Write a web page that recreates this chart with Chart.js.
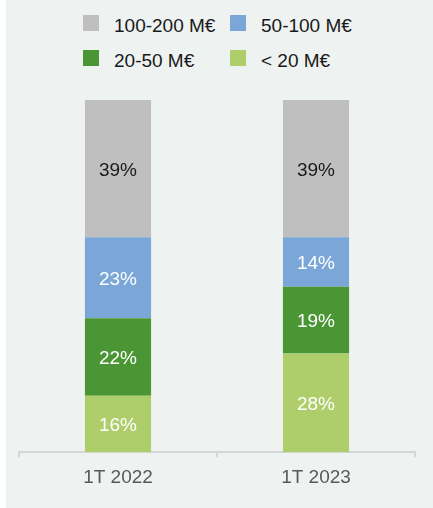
<!DOCTYPE html>
<html>
<head>
<meta charset="utf-8">
<script src="https://cdn.jsdelivr.net/npm/chart.js@4"></script>
<style>
  html, body { margin: 0; padding: 0; background: #ffffff; }
  body { width: 433px; height: 508px; position: relative; overflow: hidden;
         font-family: "Liberation Sans", Arial, sans-serif; }
  #panel { position: absolute; left: 6px; top: 0; width: 427px; height: 508px; background: #eef2f1; }
  #chart { position: absolute; left: 0; top: 0; }
  #legend { position: absolute; left: 77px; top: 14px; display: grid;
            grid-template-columns: 147px 147px; row-gap: 17px; }
  .item { display: flex; align-items: center; height: 18px; font-size: 19px; color: #1a1a1a; line-height: 18px; }
  .item span.txt { position: relative; top: 3px; }
  .box { width: 16px; height: 16px; margin-right: 15px; flex: none; }
</style>
</head>
<body>
<div id="panel">
  <div id="legend"></div>
  <canvas id="chart" width="427" height="508"></canvas>
</div>
<script>
// ============================================
// Data
// ============================================
const quarters = ['1T 2022', '1T 2023'];
const sizeBands = ['< 20 M€', '20-50 M€', '50-100 M€', '100-200 M€'];   // bottom -> top
const under20 = [16, 28];
const from20to50 = [22, 19];
const from50to100 = [23, 14];
const from100to200 = [39, 39];

const bandColors = ['#aecd6b', '#4a9634', '#7ba6d8', '#bfbfbf'];
const labelColors = ['#ffffff', '#ffffff', '#ffffff', '#1a1a1a'];
const seriesValues = [under20, from20to50, from50to100, from100to200];

// ============================================
// Value labels inside the bar segments
// ============================================
const segmentLabels = {
  id: 'segmentLabels',
  afterDatasetsDraw(chart) {
    const ctx = chart.ctx;
    ctx.save();
    ctx.font = '19px "Liberation Sans", Arial, sans-serif';
    ctx.textAlign = 'center';
    ctx.textBaseline = 'middle';
    chart.data.datasets.forEach((ds, i) => {
      const meta = chart.getDatasetMeta(i);
      meta.data.forEach((bar, j) => {
        const p = bar.getProps(['x', 'y', 'base'], true);
        ctx.fillStyle = ds.labelColor;
        ctx.fillText(ds.data[j] + '%', p.x, (p.y + p.base) / 2 + 2);
      });
    });
    ctx.restore();
  }
};

// ============================================
// Chart
// ============================================
const chart = new Chart(document.getElementById('chart'), {
  type: 'bar',
  data: {
    labels: quarters,
    datasets: sizeBands.map((band, i) => ({
      label: band,
      data: seriesValues[i],
      backgroundColor: bandColors[i],
      labelColor: labelColors[i],
      borderWidth: 0,
      barPercentage: 1,
      categoryPercentage: 0.334
    }))
  },
  options: {
    responsive: false,
    animation: false,
    layout: { padding: { top: 100, left: 13, right: 18, bottom: 10 } },
    plugins: {
      legend: { display: false },
      tooltip: { enabled: false }
    },
    scales: {
      x: {
        stacked: true,
        border: { color: '#d6d6d6', width: 2 },
        grid: { drawOnChartArea: false, drawTicks: true, tickLength: 5, color: '#d6d6d6', lineWidth: 2 },
        ticks: { color: '#595959', padding: 9, font: { size: 19, family: '"Liberation Sans", Arial, sans-serif' } }
      },
      y: {
        stacked: true,
        display: false,
        min: 0,
        max: 100
      }
    }
  },
  plugins: [segmentLabels]
});

// ============================================
// Legend (top band first, two columns)
// ============================================
const legendEl = document.getElementById('legend');
chart.data.datasets.slice().reverse().forEach(ds => {
  const item = document.createElement('div');
  item.className = 'item';
  const box = document.createElement('span');
  box.className = 'box';
  box.style.background = ds.backgroundColor;
  const txt = document.createElement('span');
  txt.className = 'txt';
  txt.textContent = ds.label;
  item.appendChild(box);
  item.appendChild(txt);
  legendEl.appendChild(item);
});
</script>
</body>
</html>
